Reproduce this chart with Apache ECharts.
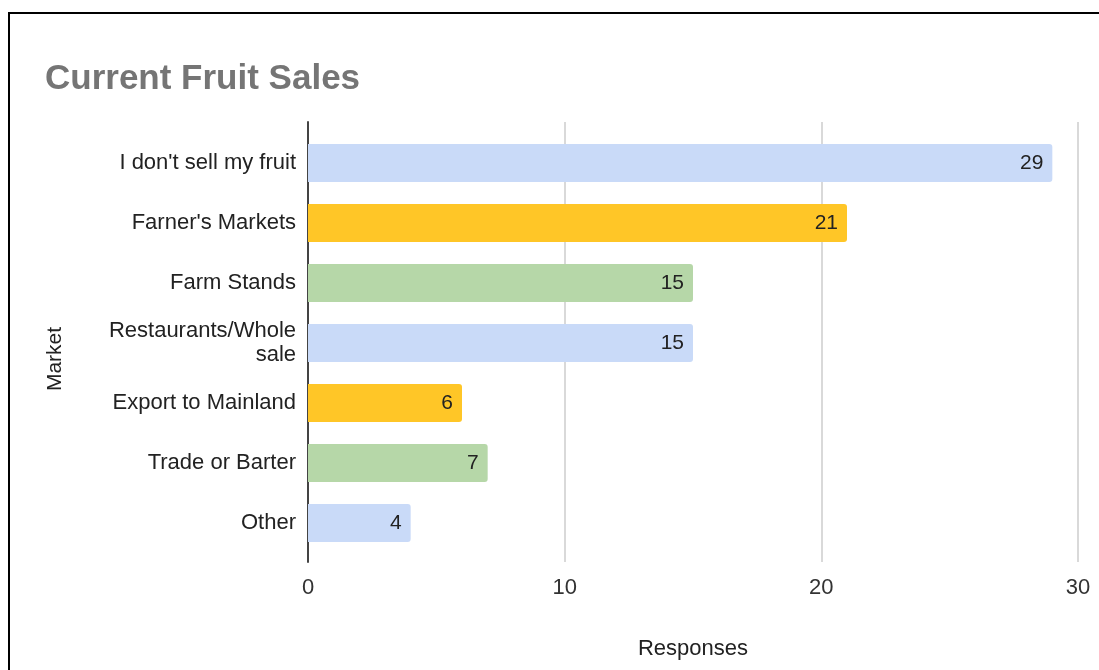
<!DOCTYPE html>
<html>
<head>
<meta charset="utf-8">
<script src="https://cdn.jsdelivr.net/npm/echarts@6/dist/echarts.min.js"></script>
<style>
  html, body { margin: 0; padding: 0; background: #fff; overflow: hidden; }
  #frame { position: absolute; left: 8px; top: 12px; width: 1200px; height: 800px; border-left: 2px solid #000; border-top: 2px solid #000; box-sizing: border-box; }
  #chart { position: absolute; left: 0; top: 0; width: 1099px; height: 670px; }
</style>
</head>
<body>
<div id="frame"></div>
<div id="chart"></div>
<script>
const categories = ["I don't sell my fruit", "Farner's Markets", "Farm Stands", "Restaurants/Whole\nsale", "Export to Mainland", "Trade or Barter", "Other"];
const responses = [29, 21, 15, 15, 6, 7, 4];
const barColors = ["#c9daf8", "#ffc627", "#b6d7a8", "#c9daf8", "#ffc627", "#b6d7a8", "#c9daf8"];
const xTicks = [0, 10, 20, 30];

const FONT = 'Liberation Sans, Arial, sans-serif';
const xMin = xTicks[0], xMax = xTicks[xTicks.length - 1];

const chart = echarts.init(document.getElementById('chart'));
chart.setOption({
  animation: false,
  backgroundColor: 'transparent',
  title: {
    text: 'Current Fruit Sales',
    left: 40, top: 57,
    textStyle: { fontFamily: FONT, fontSize: 35, fontWeight: 'bold', color: '#757575' }
  },
  graphic: [{
    type: 'text', x: 55, y: 359, rotation: Math.PI / 2,
    style: { text: 'Market', fontFamily: FONT, fontSize: 21, fill: '#222', align: 'center', verticalAlign: 'middle' }
  }],
  grid: [
    { left: 308, right: 21, top: 122, bottom: 108 },
    { left: 308, right: 21, top: 133, bottom: 117 }
  ],
  xAxis: [{
    gridIndex: 0, type: 'value', min: xMin, max: xMax, interval: 10,
    name: 'Responses', nameLocation: 'middle', nameGap: 76,
    nameTextStyle: { fontFamily: FONT, fontSize: 22, color: '#222' },
    axisLine: { show: false }, axisTick: { show: false },
    axisLabel: { fontFamily: FONT, fontSize: 22, color: '#333', margin: 15 },
    splitLine: { show: true, lineStyle: { color: '#cccccc', width: 1.5 } }
  }, {
    gridIndex: 1, type: 'value', min: xMin, max: xMax, interval: 10, show: false
  }],
  yAxis: [{
    gridIndex: 0, type: 'value', min: 0, max: 1,
    axisLine: { show: true, lineStyle: { color: '#444', width: 2 } },
    axisTick: { show: false }, axisLabel: { show: false }, splitLine: { show: false }
  }, {
    gridIndex: 1, type: 'category', data: categories, inverse: true,
    axisLine: { show: false }, axisTick: { show: false }, splitLine: { show: false },
    axisLabel: { fontFamily: FONT, fontSize: 22, color: '#222', margin: 12, lineHeight: 24, align: 'right' }
  }],
  series: [{
    type: 'bar', xAxisIndex: 1, yAxisIndex: 1,
    data: responses.map((v, i) => ({ value: v, itemStyle: { color: barColors[i] } })),
    barWidth: '63%',
    itemStyle: { borderRadius: [0, 3, 3, 0] },
    label: {
      show: true, position: 'insideRight', distance: 9,
      fontFamily: FONT, fontSize: 21, color: '#222'
    }
  }]
});
</script>
</body>
</html>
